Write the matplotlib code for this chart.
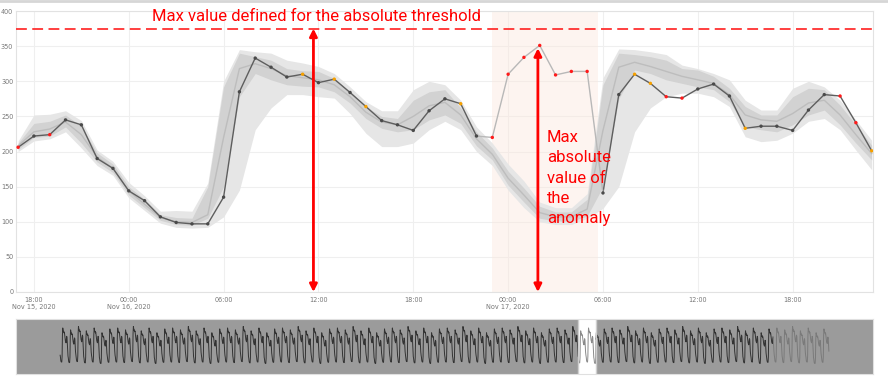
import matplotlib.pyplot as plt
import numpy as np
import pandas as pd

# hourly data shown in the main panel
times = pd.date_range('2020-11-15 17:00', '2020-11-17 23:00', freq='h')

actual = [206, 222, 224, 245, 238, 190, 176,
          144, 130, 107, 99, 97, 97, 135, 285, 333, 320, 306, 310, 298, 303, 284, 264,
          244, 238, 230, 258, 275, 268, 222, 220,
          310, 334, 351, 309, 314, 314, 141, 281, 310, 297, 278, 276, 289, 296, 279, 233,
          236, 236, 230, 259, 281, 279, 241, 201]
# n = normal, o = warning, r = anomaly
status = "rnrnnnn" + "nnnnnnnnnnnonononnnnnonr" + "rrrrrrnnoorrnnnonnnnnrro"

median = [208, 228, 232, 242, 224, 192, 176,
          144, 125, 106, 100, 99, 110, 220, 318, 325, 318, 308, 305, 302, 295, 278, 256,
          242, 238, 250, 265, 270, 252, 218, 196,
          162, 138, 113, 107, 107, 118, 230, 320, 327, 321, 314, 307, 302, 297, 281, 252,
          245, 243, 254, 269, 273, 252, 224, 197]
inner_lo = [203, 220, 222, 235, 212, 185, 170,
            138, 120, 102, 96, 95, 105, 150, 278, 311, 302, 295, 293, 292, 285, 269, 247,
            233, 228, 231, 245, 252, 240, 208, 188,
            152, 128, 105, 101, 101, 108, 150, 275, 316, 311, 302, 297, 292, 288, 271, 235,
            231, 228, 238, 252, 259, 238, 212, 188]
inner_hi = [212, 240, 243, 252, 236, 198, 182,
            150, 132, 110, 106, 105, 150, 292, 340, 335, 330, 318, 315, 314, 304, 285, 264,
            250, 247, 273, 285, 288, 262, 228, 205,
            172, 148, 122, 114, 114, 132, 295, 340, 338, 335, 330, 318, 316, 307, 290, 264,
            252, 252, 278, 290, 288, 266, 238, 209]
outer_lo = [200, 215, 218, 228, 205, 180, 166,
            134, 116, 98, 92, 91, 92, 107, 145, 231, 262, 281, 281, 278, 276, 254, 226,
            207, 207, 212, 231, 243, 231, 200, 180,
            145, 120, 100, 96, 96, 105, 119, 150, 228, 262, 278, 283, 283, 278, 264, 221,
            214, 216, 226, 243, 247, 231, 202, 174]
outer_hi = [215, 252, 253, 258, 244, 202, 186,
            156, 137, 115, 116, 115, 155, 300, 345, 342, 340, 330, 326, 321, 311, 292, 271,
            258, 258, 288, 300, 295, 273, 235, 212,
            182, 158, 128, 120, 120, 140, 305, 346, 345, 342, 338, 323, 318, 311, 302, 273,
            259, 259, 290, 300, 292, 273, 245, 216]

threshold = 375
tick_times = pd.date_range('2020-11-15 18:00', '2020-11-17 18:00', freq='6h')
tick_labels = ['18:00\nNov 15, 2020', '00:00\nNov 16, 2020', '06:00', '12:00', '18:00',
               '00:00\nNov 17, 2020', '06:00', '12:00', '18:00']

# overview strip: one day profile and weekly factors
nav_profile = [144, 130, 107, 99, 97, 97, 135, 285, 333, 320, 306, 310,
               298, 303, 284, 264, 244, 238, 230, 258, 275, 268, 222, 176]
nav_week = [1.0, 0.96, 1.03, 0.94, 1.0, 0.9, 0.98]
nav_days = 98

colors = {'n': '#4a4a4a', 'o': '#f5a000', 'r': '#ff1a1a'}
label_font = ['Liberation Sans Narrow', 'Roboto', 'DejaVu Sans']

fig = plt.figure(figsize=(8.88, 3.76), dpi=100)
ax = fig.add_axes([16/888, 84/376, 857/888, 281/376])

ax.fill_between(times, outer_lo, outer_hi, color='#e6e6e6', lw=0, zorder=2)
ax.fill_between(times, inner_lo, inner_hi, color='#d2d2d2', lw=0, zorder=3)
ax.plot(times, median, color='#bdbdbd', lw=1, zorder=4)

a0, a1 = 29, 37  # anomalous stretch
ax.plot(times[:a0+1], actual[:a0+1], color='#5e5e5e', lw=1, zorder=5)
ax.plot(times[a1:], actual[a1:], color='#5e5e5e', lw=1, zorder=5)
ax.plot(times[a0:a1+1], actual[a0:a1+1], color='#b8b8b8', lw=1, zorder=5)
ax.scatter(times, actual, c=[colors[s] for s in status], s=6, zorder=6, lw=0)

ax.axvspan(pd.Timestamp('2020-11-16 23:00'), pd.Timestamp('2020-11-17 05:40'),
           color='#fbe8de', alpha=0.45, lw=0, zorder=1)
ax.axhline(threshold, color='#ff3030', ls=(0, (6, 3)), lw=1.3, zorder=7)

ax.set_xlim(pd.Timestamp('2020-11-15 16:52'), pd.Timestamp('2020-11-17 23:05'))
ax.set_ylim(0, 400)
ax.set_yticks(range(0, 401, 50))
ax.set_xticks(tick_times)
ax.set_xticklabels(tick_labels, linespacing=1.3)
ax.tick_params(length=0, labelsize=4.7, colors='#777777')
ax.tick_params(axis='x', pad=3.5)
ax.tick_params(axis='y', pad=2)
ax.grid(color='#efefef', lw=0.8, zorder=0)
ax.set_axisbelow(True)
for s in ax.spines.values():
    s.set_color('#e2e2e2')

# annotations
ax.text(pd.Timestamp('2020-11-16 01:28'), 392, 'Max value defined for the absolute threshold',
        color='red', fontsize=12, family=label_font, va='center', ha='left', clip_on=False)
arrow = dict(arrowstyle='<|-|>', color='red', lw=2, mutation_scale=11, shrinkA=0, shrinkB=0)
ax.annotate('', xy=(pd.Timestamp('2020-11-16 11:41'), 0),
            xytext=(pd.Timestamp('2020-11-16 11:41'), threshold), arrowprops=arrow, zorder=8)
ax.annotate('', xy=(pd.Timestamp('2020-11-17 01:53'), 0),
            xytext=(pd.Timestamp('2020-11-17 01:53'), 347), arrowprops=arrow, zorder=8)
ax.text(pd.Timestamp('2020-11-17 02:28'), 231, 'Max\nabsolute\nvalue of\nthe\nanomaly',
        color='red', fontsize=12, family=label_font, va='top', ha='left',
        linespacing=1.45, zorder=8)

# overview strip
nav = fig.add_axes([16/888, 2/376, 857/888, 55/376])
nav_y = np.concatenate([np.array(nav_profile) * nav_week[d % 7] for d in range(nav_days)])
nav_x = np.arange(len(nav_y))
win0, win1, fade = 1584, 1639, 2180
nav.axvspan(-200, win0, color='#9b9b9b', lw=0)
nav.axvspan(win1, 2600, color='#9b9b9b', lw=0)
nav.plot(nav_x[:win0+1], nav_y[:win0+1], color='#333333', lw=0.7)
nav.plot(nav_x[win0:win1+1], nav_y[win0:win1+1], color='#8a8a8a', lw=0.7)
nav.plot(nav_x[win1:fade+1], nav_y[win1:fade+1], color='#333333', lw=0.7)
nav.plot(nav_x[fade:], nav_y[fade:], color='#7a7a7a', lw=0.7)
nav.axvline(win0, color='#cfcfcf', lw=1)
nav.axvline(win1, color='#cfcfcf', lw=1)
nav.set_xlim(-135, 2486)
nav.set_ylim(14, 395)
nav.set_xticks([])
nav.set_yticks([])
for s in nav.spines.values():
    s.set_color('#e0e0e0')

fig.add_artist(plt.Line2D([0, 1], [0.997, 0.997], color='#d6d6d6', lw=2))

fig.savefig('out.png', dpi=100, facecolor='white')
